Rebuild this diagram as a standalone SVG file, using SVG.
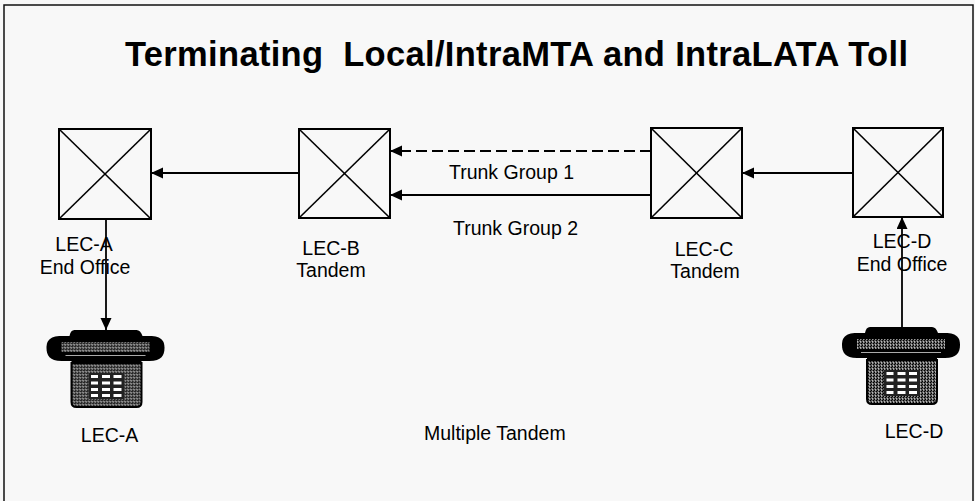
<svg xmlns="http://www.w3.org/2000/svg" width="975" height="501" viewBox="0 0 975 501">
  <style>
    .frame { fill: none; stroke: #111; stroke-width: 1.5; }
    .switch rect { fill: none; stroke: #000; stroke-width: 2; }
    .switch line { stroke: #000; stroke-width: 1.6; }
    .conn { fill: none; stroke: #000; stroke-width: 1.8; }
    .dash { stroke-dasharray: 11 5; }
    .lbl { font-family: "Liberation Sans", Arial, sans-serif; font-size: 19.5px; fill: #000; }
    .title { font-family: "Liberation Sans", Arial, sans-serif; font-size: 34.5px; font-weight: bold; fill: #000; }
    .mid { text-anchor: middle; }
  </style>
  <defs>
    <marker id="arrow" markerUnits="userSpaceOnUse" markerWidth="13" markerHeight="12" refX="12" refY="5.5" orient="auto">
      <path d="M0,0 L12,5.5 L0,11 Z" fill="#000"/>
    </marker>
    <!-- halftone dot pattern used for the telephone shading -->
    <pattern id="halftone" width="3" height="3" patternUnits="userSpaceOnUse">
      <rect width="3" height="3" fill="#555"/>
      <rect width="1" height="1" fill="#000"/>
      <rect x="2" y="1" width="1" height="1" fill="#000"/>
      <rect x="1" y="2" width="1" height="1" fill="#bbb"/>
      <rect x="1" y="0" width="1" height="1" fill="#999"/>
    </pattern>
    <!-- telephone set, origin at top centre of the cradle -->
    <g id="telephone">
      <!-- cradle top -->
      <path d="M-31,0 H31 Q35,0 37,6 L38,10 H-38 L-36,6 Q-35,0 -31,0 Z" fill="#000"/>
      <!-- handset -->
      <path d="M-44,6 H44 C57,6 59,12 59,18 C59,25 56,31 44,31 H-44 C-56,31 -59,25 -59,18 C-59,12 -57,6 -44,6 Z" fill="#000"/>
      <rect x="-44" y="12" width="88" height="10" fill="url(#halftone)"/>
      <rect x="-40" y="25" width="80" height="1" fill="#aaa"/>
      <!-- neck between handset and body -->
      <rect x="-34" y="29" width="70" height="6" fill="#000"/>
      <!-- body -->
      <path d="M-34,33 H36 V72 Q36,77 31,77 H-29 Q-34,77 -34,72 Z" fill="url(#halftone)" stroke="#000" stroke-width="2"/>
      <!-- keypad -->
      <rect x="-17" y="43" width="36" height="26" fill="#222"/>
      <g fill="#fff">
        <rect x="-14.5" y="45" width="7" height="3"/>
        <rect x="-3.5" y="45" width="8" height="3"/>
        <rect x="8" y="45" width="8" height="3"/>
        <rect x="-14.5" y="51.5" width="7" height="3"/>
        <rect x="-3.5" y="51.5" width="8" height="3"/>
        <rect x="8" y="51.5" width="8" height="3"/>
        <rect x="-14.5" y="58" width="7" height="3"/>
        <rect x="-3.5" y="58" width="8" height="3"/>
        <rect x="8" y="58" width="8" height="3"/>
        <rect x="-14.5" y="64" width="7" height="3"/>
        <rect x="-3.5" y="64" width="8" height="3"/>
        <rect x="8" y="64" width="8" height="3"/>
      </g>
    </g>
  </defs>

  <rect width="975" height="501" fill="#f8f8f8"/>
  <path class="frame" d="M4,501 V5 H973 V501"/>

  <text class="title" x="125" y="66" textLength="783" xml:space="preserve">Terminating  Local/IntraMTA and IntraLATA Toll</text>

  <!-- switching offices -->
  <g id="lec-a-end-office" class="switch">
    <rect x="59" y="129" width="92" height="90"/>
    <line x1="59" y1="129" x2="151" y2="219"/>
    <line x1="151" y1="129" x2="59" y2="219"/>
    <text class="lbl mid" x="84" y="251">LEC-A</text>
    <text class="lbl mid" x="85" y="274">End Office</text>
  </g>
  <g id="lec-b-tandem" class="switch">
    <rect x="299" y="129" width="91" height="89"/>
    <line x1="299" y1="129" x2="390" y2="218"/>
    <line x1="390" y1="129" x2="299" y2="218"/>
    <text class="lbl mid" x="331" y="255">LEC-B</text>
    <text class="lbl mid" x="331" y="277">Tandem</text>
  </g>
  <g id="lec-c-tandem" class="switch">
    <rect x="651" y="128" width="91" height="90"/>
    <line x1="651" y1="128" x2="742" y2="218"/>
    <line x1="742" y1="128" x2="651" y2="218"/>
    <text class="lbl mid" x="704" y="256">LEC-C</text>
    <text class="lbl mid" x="705" y="278">Tandem</text>
  </g>
  <g id="lec-d-end-office" class="switch">
    <rect x="853" y="128" width="90" height="89"/>
    <line x1="853" y1="128" x2="943" y2="217"/>
    <line x1="943" y1="128" x2="853" y2="217"/>
  </g>

  <!-- subscriber telephones -->
  <g id="lec-a-phone">
    <use href="#telephone" x="105.5" y="330"/>
    <text class="lbl mid" x="109.5" y="442">LEC-A</text>
  </g>
  <g id="lec-d-phone">
    <use href="#telephone" x="901" y="327"/>
    <text class="lbl mid" x="914" y="438">LEC-D</text>
  </g>

  <!-- trunks and lines -->
  <g id="connectors">
    <line class="conn" x1="299" y1="173" x2="151" y2="173" marker-end="url(#arrow)"/>
    <line class="conn dash" x1="651" y1="151" x2="390" y2="151" marker-end="url(#arrow)"/>
    <line class="conn" x1="651" y1="195" x2="390" y2="195" marker-end="url(#arrow)"/>
    <line class="conn" x1="853" y1="173" x2="742" y2="173" marker-end="url(#arrow)"/>
    <line class="conn" x1="106" y1="219" x2="106" y2="330" marker-end="url(#arrow)"/>
    <line class="conn" x1="902" y1="327" x2="902" y2="217" marker-end="url(#arrow)"/>
    <text class="lbl" x="449" y="179">Trunk Group 1</text>
    <text class="lbl" x="453" y="235">Trunk Group 2</text>
  </g>

  <!-- end-office label drawn over the line, as in the plan -->
  <g id="lec-d-labels">
    <text class="lbl mid" x="902" y="248">LEC-D</text>
    <text class="lbl mid" x="902" y="271">End Office</text>
  </g>

  <text id="caption" class="lbl" x="424" y="440">Multiple Tandem</text>
</svg>
